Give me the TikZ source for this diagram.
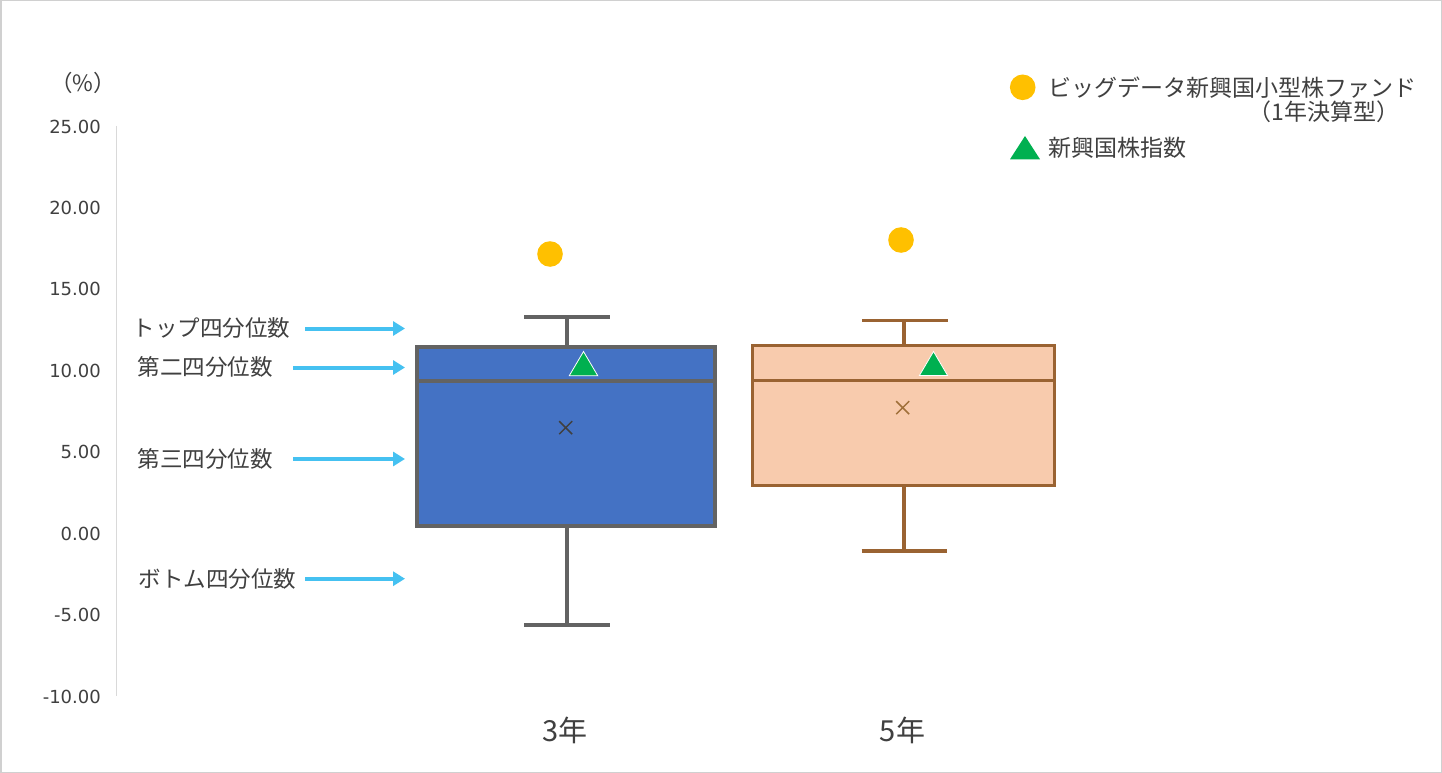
\documentclass[tikz,border=0pt]{standalone}
\usepackage{fontspec}
\setmainfont{Noto Sans CJK JP}
\newfontfamily\tickfont{DejaVu Sans}
\usetikzlibrary{arrows.meta}
\definecolor{txt}{HTML}{404040}
\definecolor{axisgray}{HTML}{D9D9D9}
\definecolor{framegray}{HTML}{D0D0D0}
\definecolor{arrowblue}{HTML}{45C1F1}
\definecolor{boxblue}{HTML}{4472C4}
\definecolor{boxgray}{HTML}{636363}
\definecolor{boxpeach}{HTML}{F8CBAD}
\definecolor{boxbrown}{HTML}{9A6332}
\definecolor{crossbrown}{HTML}{A0703A}
\definecolor{dotyellow}{HTML}{FFC000}
\definecolor{trigreen}{HTML}{00B050}
\tikzset{
  ticklbl/.style={anchor=east,inner sep=0pt,text=txt,font=\tickfont\fontsize{18}{20}\selectfont},
  jplbl/.style={inner sep=0pt,text=txt,font=\fontsize{22.5}{26}\selectfont},
  leglbl/.style={inner sep=0pt,text=txt,font=\fontsize{23}{26}\selectfont},
  catlbl/.style={inner sep=0pt,text=txt,font=\fontsize{29}{32}\selectfont},
  bluearrow/.style={draw=arrowblue,line width=4pt,-{Triangle[length=12pt,width=14pt]}},
  boxone/.style={fill=boxblue,draw=boxgray,line width=4pt},
  boxtwo/.style={fill=boxpeach,draw=boxbrown,line width=3.5pt},
  whiskone/.style={draw=boxgray,line width=4pt},
  whisktwo/.style={draw=boxbrown,line width=3.5pt},
  fundmark/.style={fill=dotyellow},
  idxmark/.style={fill=trigreen,draw=white,line width=0.8pt,line join=miter},
}
\begin{document}
\begin{tikzpicture}[x=1pt,y=-1pt]
\useasboundingbox (0,0) rectangle (1442,773);
\fill[white] (0,0) rectangle (1442,773);
\draw[framegray,line width=1.5pt] (0.75,0.75) rectangle (1441.25,772.25);
% axis
\draw[axisgray,line width=1.2pt] (116.7,126) -- (116.7,696);
\node[ticklbl] (t25) at (101,126.5) {25.00};
\node[ticklbl] (t20) at (101,207.9) {20.00};
\node[ticklbl] (t15) at (101,289.4) {15.00};
\node[ticklbl] (t10) at (101,370.8) {10.00};
\node[ticklbl] (t5) at (101,452.2) {5.00};
\node[ticklbl] (t0) at (101,533.6) {0.00};
\node[ticklbl] (tm5) at (101,615.1) {-5.00};
\node[ticklbl] (tm10) at (101,696.5) {-10.00};
\node[jplbl,font=\fontsize{22.5}{26}\selectfont] (unit) at (83,83) {（\%）};
% box 1 (3年)
\draw[whiskone] (566.7,316.7) -- (566.7,347);
\draw[whiskone] (524,316.7) -- (610,316.7);
\draw[whiskone] (566.7,526) -- (566.7,625);
\draw[whiskone] (524,625) -- (610,625);
\draw[boxone] (416.7,347) rectangle (715,526);
\draw[boxgray,line width=4pt] (416.7,380.5) -- (715,380.5);
\draw[txt,line width=1.5pt] (559.2,421.2) -- (572.2,434.2) (559.2,434.2) -- (572.2,421.2);
\fill[fundmark] (550,254) circle (12.8);
\draw[idxmark] (583.5,351.5) -- (597.8,375.8) -- (569.2,375.8) -- cycle;
% box 2 (5年)
\draw[whisktwo] (904,320.7) -- (904,345.7);
\draw[whisktwo] (862,320.7) -- (947.5,320.7);
\draw[whisktwo] (904,485.3) -- (904,551);
\draw[whisktwo] (861.5,551) -- (946.8,551);
\draw[boxtwo] (752.3,345.7) rectangle (1054.3,485.3);
\draw[boxbrown,line width=3.5pt] (752.3,380.3) -- (1054.3,380.3);
\draw[crossbrown,line width=1.5pt] (896.2,401.2) -- (909.2,414.2) (896.2,414.2) -- (909.2,401.2);
\fill[fundmark] (901,240) circle (12.8);
\draw[idxmark] (933.5,351.5) -- (947.6,375.5) -- (919.4,375.5) -- cycle;
% category labels
\node[catlbl] (c3) at (565,730) {3年};
\node[catlbl] (c5) at (902.5,730) {5年};
% quartile labels and arrows
\node[jplbl] (q1) at (211.5,328) {トップ四分位数};
\node[jplbl] (q2) at (205,367) {第二四分位数};
\node[jplbl] (q3) at (205,459) {第三四分位数};
\node[jplbl] (q4) at (217.5,578.5) {ボトム四分位数};
\coordinate (a1s) at (305,328.5);  \coordinate (a1e) at (405,328.5);
\coordinate (a2s) at (293,367.5);  \coordinate (a2e) at (405,367.5);
\coordinate (a3s) at (293,459);    \coordinate (a3e) at (405,459);
\coordinate (a4s) at (305,578.7);  \coordinate (a4e) at (405,578.7);
\draw[bluearrow] (a1s) -- (a1e);
\draw[bluearrow] (a2s) -- (a2e);
\draw[bluearrow] (a3s) -- (a3e);
\draw[bluearrow] (a4s) -- (a4e);
% legend
\fill[fundmark] (1022.7,87.3) circle (12.8);
\node[leglbl] (lg1) at (1232,88) {ビッグデータ新興国小型株ファンド};
\node[leglbl] (lg1b) at (1324,112) {（1年決算型）};
\fill[trigreen] (1025,136) -- (1040,159.3) -- (1010,159.3) -- cycle;
\node[leglbl] (lg2) at (1117,147.5) {新興国株指数};
\end{tikzpicture}
\end{document}
